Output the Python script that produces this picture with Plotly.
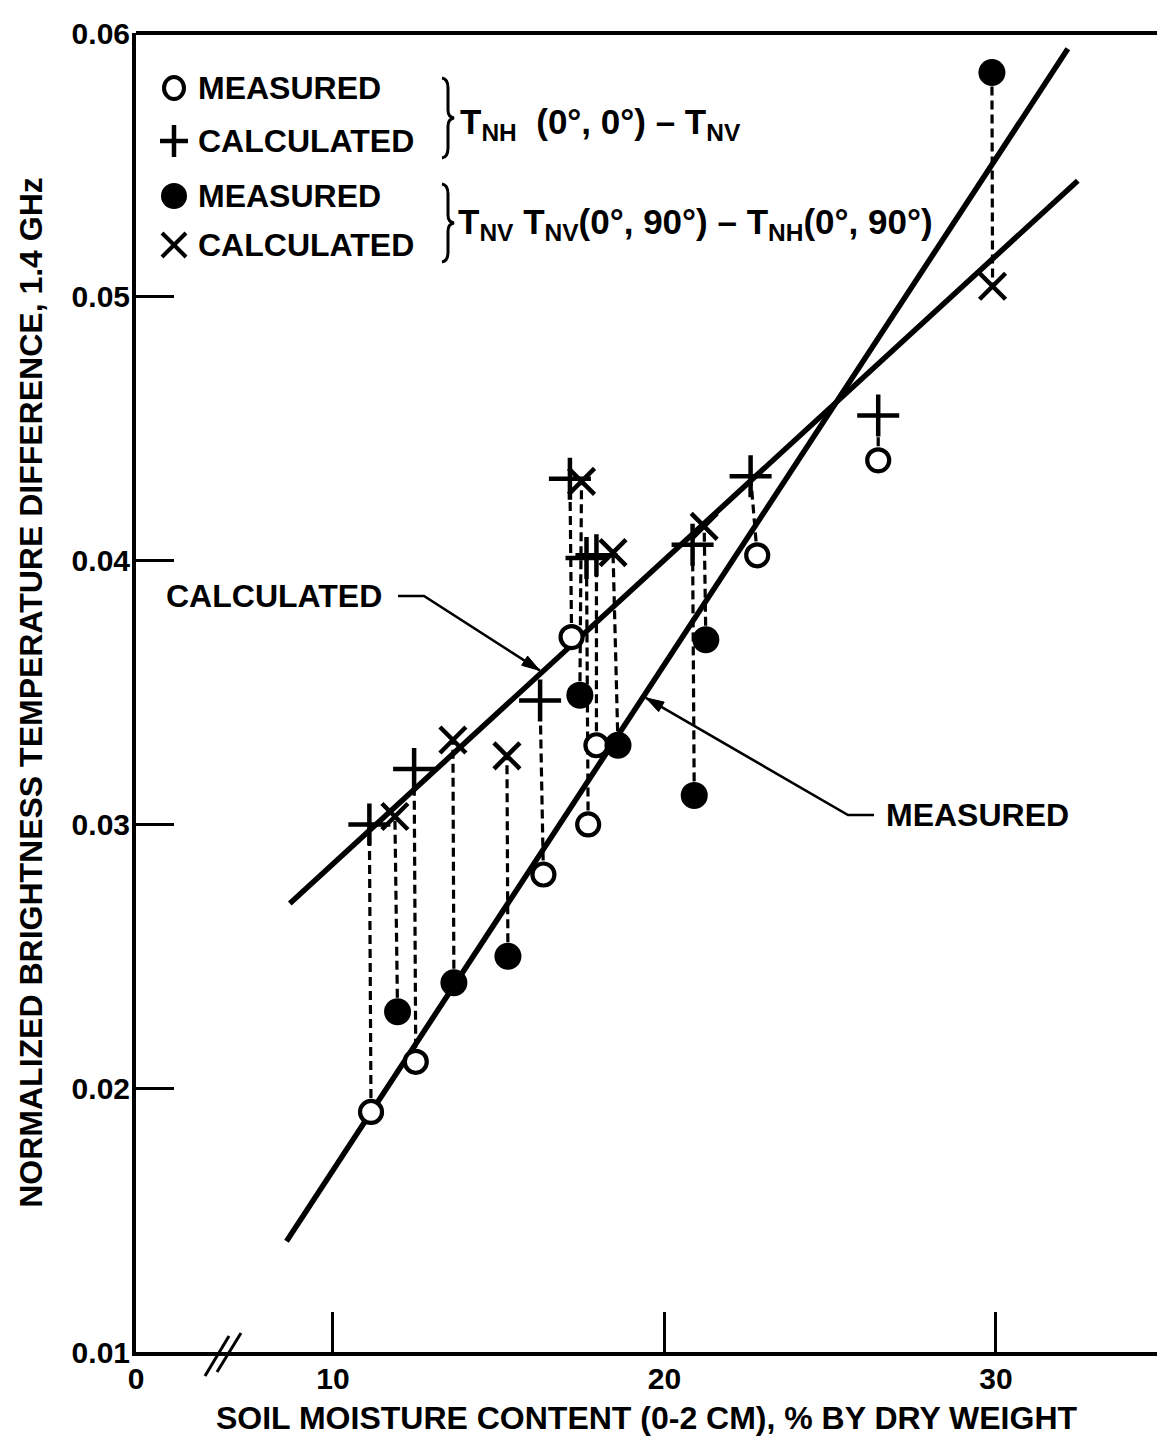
import math
import plotly.graph_objects as go

# ---------------- data ----------------
# T_NH(0°,0°) - T_NV : measured (open circles) and calculated (plus)
open_x = [11.15, 12.5, 16.35, 17.2, 17.7, 17.95, 22.8, 26.45]
open_y = [0.0191, 0.0210, 0.0281, 0.0371, 0.0300, 0.0330, 0.0402, 0.0438]
plus_x = [11.1, 12.45, 16.25, 17.15, 17.65, 17.95, 22.6, 26.45, 20.85]
plus_y = [0.0300, 0.0321, 0.0347, 0.0431, 0.0401, 0.0402, 0.0432, 0.0455, 0.0406]

# T_NV(0°,90°) - T_NH(0°,90°) : measured (filled circles) and calculated (x)
fill_x = [11.95, 13.65, 15.28, 17.45, 18.6, 20.9, 21.25, 29.88]
fill_y = [0.0229, 0.0240, 0.0250, 0.0349, 0.0330, 0.0311, 0.0370, 0.0585]
cross_x = [11.87, 13.62, 15.25, 17.5, 18.45, 21.2, 29.9]
cross_y = [0.0303, 0.0332, 0.0326, 0.0430, 0.0403, 0.0413, 0.0504]

# measured point -> calculated partner (joined by dashed lines)
open_pairs = [("plus", i) for i in range(8)]
fill_pairs = [("cross", 0), ("cross", 1), ("cross", 2), ("cross", 3),
              ("cross", 4), ("plus", 8), ("cross", 5), ("cross", 6)]

# fitted lines
calc_line_x = [8.7, 32.47]
calc_line_y = [0.0270, 0.0544]
meas_line_x = [8.6, 32.17]
meas_line_y = [0.0142, 0.0594]

x_tick_vals = [4.06, 10, 20, 30]
x_tick_text = ["0", "10", "20", "30"]
y_tick_vals = [0.01, 0.02, 0.03, 0.04, 0.05, 0.06]
y_tick_text = ["0.01", "0.02", "0.03", "0.04", "0.05", "0.06"]

X_TITLE = "SOIL MOISTURE CONTENT (0-2 CM), % BY DRY WEIGHT"
Y_TITLE = "NORMALIZED BRIGHTNESS TEMPERATURE DIFFERENCE, 1.4 GHz"

# ---------------- layout helpers ----------------
W, H = 1157, 1444
L, R, T, B = 136, 0, 33, 92
X_RANGE = [4.06, 34.86]
Y_RANGE = [0.01, 0.06]
FONT = "Liberation Sans, Arial, Helvetica, sans-serif"
BLACK = "#000000"


def px(x):
    return (x - L) / (W - L - R)


def py(y):
    return (H - B - y) / (H - T - B)


def data_to_pix(x, y):
    pxx = L + (x - X_RANGE[0]) / (X_RANGE[1] - X_RANGE[0]) * (W - L - R)
    pyy = T + (Y_RANGE[1] - y) / (Y_RANGE[1] - Y_RANGE[0]) * (H - T - B)
    return pxx, pyy


calc = {"plus": (plus_x, plus_y), "cross": (cross_x, cross_y)}


def connectors(mx, my, pairs):
    xs, ys = [], []
    for i, (kind, j) in enumerate(pairs):
        cx, cy = calc[kind]
        xs += [mx[i], cx[j], None]
        ys += [my[i], cy[j], None]
    return xs, ys


fig = go.Figure()

dx1, dy1 = connectors(open_x, open_y, open_pairs)
dx2, dy2 = connectors(fill_x, fill_y, fill_pairs)
fig.add_trace(go.Scatter(x=dx1 + dx2, y=dy1 + dy2, mode="lines",
                         line=dict(color=BLACK, width=3.2, dash="9px,5px"),
                         showlegend=False, hoverinfo="skip"))

fig.add_trace(go.Scatter(x=calc_line_x, y=calc_line_y, mode="lines",
                         line=dict(color=BLACK, width=5.5), showlegend=False))
fig.add_trace(go.Scatter(x=meas_line_x, y=meas_line_y, mode="lines",
                         line=dict(color=BLACK, width=5.5), showlegend=False))

fig.add_trace(go.Scatter(x=open_x, y=open_y, mode="markers", name="MEASURED",
                         marker=dict(symbol="circle", size=22, color="white",
                                     line=dict(color=BLACK, width=4.2)),
                         showlegend=False))
fig.add_trace(go.Scatter(x=plus_x, y=plus_y, mode="markers", name="CALCULATED",
                         marker=dict(symbol="cross-thin-open", size=30, color=BLACK,
                                     line=dict(color=BLACK, width=4.5)),
                         showlegend=False))
fig.add_trace(go.Scatter(x=fill_x, y=fill_y, mode="markers", name="MEASURED",
                         marker=dict(symbol="circle", size=27, color=BLACK,
                                     line=dict(width=0)),
                         showlegend=False))
fig.add_trace(go.Scatter(x=cross_x, y=cross_y, mode="markers", name="CALCULATED",
                         marker=dict(symbol="x-thin-open", size=26, color=BLACK,
                                     line=dict(color=BLACK, width=4.5)),
                         showlegend=False))

shapes = []
annotations = []

# top border
shapes.append(dict(type="line", xref="paper", yref="paper", x0=0, x1=1, y0=1, y1=1,
                   line=dict(color=BLACK, width=4)))
# axis break mark
for (a, b, c, d) in [(205, 1376, 229, 1336), (217, 1372, 241, 1333)]:
    shapes.append(dict(type="line", xref="paper", yref="paper",
                       x0=px(a), y0=py(b), x1=px(c), y1=py(d),
                       line=dict(color=BLACK, width=3)))

# ---- key (drawn by hand) ----
key_rows = [("open", 88, "MEASURED"), ("plus", 141, "CALCULATED"),
            ("fill", 196, "MEASURED"), ("cross", 245, "CALCULATED")]
sx = 174
for kind, yy, label in key_rows:
    if kind == "open":
        shapes.append(dict(type="circle", xref="paper", yref="paper",
                           x0=px(sx - 10), x1=px(sx + 10), y0=py(yy + 11), y1=py(yy - 11),
                           line=dict(color=BLACK, width=4)))
    elif kind == "fill":
        shapes.append(dict(type="circle", xref="paper", yref="paper",
                           x0=px(sx - 13), x1=px(sx + 13), y0=py(yy + 13), y1=py(yy - 13),
                           fillcolor=BLACK, line=dict(color=BLACK, width=0)))
    elif kind == "plus":
        shapes.append(dict(type="line", xref="paper", yref="paper",
                           x0=px(sx - 14), x1=px(sx + 14), y0=py(yy), y1=py(yy),
                           line=dict(color=BLACK, width=4.5)))
        shapes.append(dict(type="line", xref="paper", yref="paper",
                           x0=px(sx), x1=px(sx), y0=py(yy - 16), y1=py(yy + 16),
                           line=dict(color=BLACK, width=4.5)))
    else:
        for s in (1, -1):
            shapes.append(dict(type="line", xref="paper", yref="paper",
                               x0=px(sx - 12), x1=px(sx + 12), y0=py(yy - 12 * s), y1=py(yy + 12 * s),
                               line=dict(color=BLACK, width=4)))
    annotations.append(dict(xref="paper", yref="paper", x=px(196), y=py(yy),
                            xanchor="left", yanchor="middle", showarrow=False,
                            text=label, font=dict(size=32, color=BLACK, family=FONT, weight="bold")))


def brace(x0, top, bot):
    mid = (top + bot) / 2
    pts = [
        f"M {px(x0)},{py(top)}",
        f"Q {px(x0 + 6)},{py(top + 1)} {px(x0 + 6)},{py(top + 10)}",
        f"L {px(x0 + 6)},{py(mid - 8)}",
        f"Q {px(x0 + 6)},{py(mid - 1)} {px(x0 + 12)},{py(mid)}",
        f"Q {px(x0 + 6)},{py(mid + 1)} {px(x0 + 6)},{py(mid + 8)}",
        f"L {px(x0 + 6)},{py(bot - 10)}",
        f"Q {px(x0 + 6)},{py(bot - 1)} {px(x0)},{py(bot)}",
    ]
    return dict(type="path", xref="paper", yref="paper", path=" ".join(pts),
                line=dict(color=BLACK, width=3))


shapes.append(brace(442, 78, 158))
shapes.append(brace(442, 184, 262))

annotations.append(dict(xref="paper", yref="paper", x=px(458), y=py(124),
                        xanchor="left", yanchor="middle", showarrow=False,
                        text="T<sub>NH</sub>  (0°, 0°) – T<sub>NV</sub>",
                        font=dict(size=35, color=BLACK, family=FONT, weight="bold")))
annotations.append(dict(xref="paper", yref="paper", x=px(456), y=py(224),
                        xanchor="left", yanchor="middle", showarrow=False,
                        text="T<sub>NV</sub> T<sub>NV</sub>(0°, 90°) – T<sub>NH</sub>(0°, 90°)",
                        font=dict(size=35, color=BLACK, family=FONT, weight="bold")))


# ---- call-outs for the two fitted lines ----
def on_line(xs, ys, x):
    return ys[0] + (ys[1] - ys[0]) * (x - xs[0]) / (xs[1] - xs[0])


def leader(points, tip, head_len=18, head_w=5.5):
    """polyline in pixels ending with a filled arrowhead at tip (pixels)."""
    pts = points + [tip]
    path = "M " + " L ".join(f"{px(a)},{py(b)}" for a, b in pts)
    shapes.append(dict(type="path", xref="paper", yref="paper", path=path,
                       line=dict(color=BLACK, width=2.6)))
    (ax, ay), (tx, ty) = pts[-2], tip
    d = math.hypot(tx - ax, ty - ay)
    ux, uy = (tx - ax) / d, (ty - ay) / d
    bx, by = tx - ux * head_len, ty - uy * head_len
    nx, ny = -uy, ux
    tri = (f"M {px(tx)},{py(ty)} L {px(bx + nx * head_w)},{py(by + ny * head_w)} "
           f"L {px(bx - nx * head_w)},{py(by - ny * head_w)} Z")
    shapes.append(dict(type="path", xref="paper", yref="paper", path=tri,
                       fillcolor=BLACK, line=dict(color=BLACK, width=1)))


annotations.append(dict(xref="paper", yref="paper", x=px(274), y=py(596),
                        xanchor="center", yanchor="middle",
                        showarrow=False, text="CALCULATED",
                        font=dict(size=32, color=BLACK, family=FONT, weight="bold")))
tipx = 16.3
tip1 = data_to_pix(tipx, on_line(calc_line_x, calc_line_y, tipx))
leader([(398, 596), (424, 596)], (tip1[0] - 2, tip1[1] - 2))

annotations.append(dict(xref="paper", yref="paper", x=px(884), y=py(815),
                        xanchor="left", yanchor="middle", showarrow=False, text="MEASURED",
                        font=dict(size=32, color=BLACK, family=FONT, weight="bold")))
tipx2 = 19.38
tip2 = data_to_pix(tipx2, on_line(meas_line_x, meas_line_y, tipx2))
leader([(874, 815), (848, 815)], (tip2[0] + 2, tip2[1] + 2))

fig.update_layout(
    width=W, height=H,
    margin=dict(l=L, r=R, t=T, b=B, pad=0),
    paper_bgcolor="white", plot_bgcolor="white",
    font=dict(family=FONT, color=BLACK, size=30, weight="bold"),
    showlegend=False,
    shapes=shapes, annotations=annotations,
    xaxis=dict(range=X_RANGE, tickvals=x_tick_vals, ticktext=x_tick_text,
               showgrid=False, zeroline=False, showline=True, linecolor=BLACK, linewidth=4,
               ticks="inside", ticklen=40, tickwidth=3, tickcolor=BLACK,
               ticklabelstandoff=-3,
               tickfont=dict(size=30, family=FONT, weight="bold"),
               title=dict(text=X_TITLE, standoff=14,
                          font=dict(size=32, family=FONT, weight="bold"))),
    yaxis=dict(range=Y_RANGE, tickvals=y_tick_vals, ticktext=y_tick_text,
               showgrid=False, zeroline=False, showline=True, linecolor=BLACK, linewidth=4,
               ticks="inside", ticklen=38, tickwidth=3, tickcolor=BLACK,
               ticklabelstandoff=-4,
               tickfont=dict(size=30, family=FONT, weight="bold"),
               title=dict(text=Y_TITLE, standoff=20,
                          font=dict(size=32, family=FONT, weight="bold"))),
)

fig.write_html("out.html")
